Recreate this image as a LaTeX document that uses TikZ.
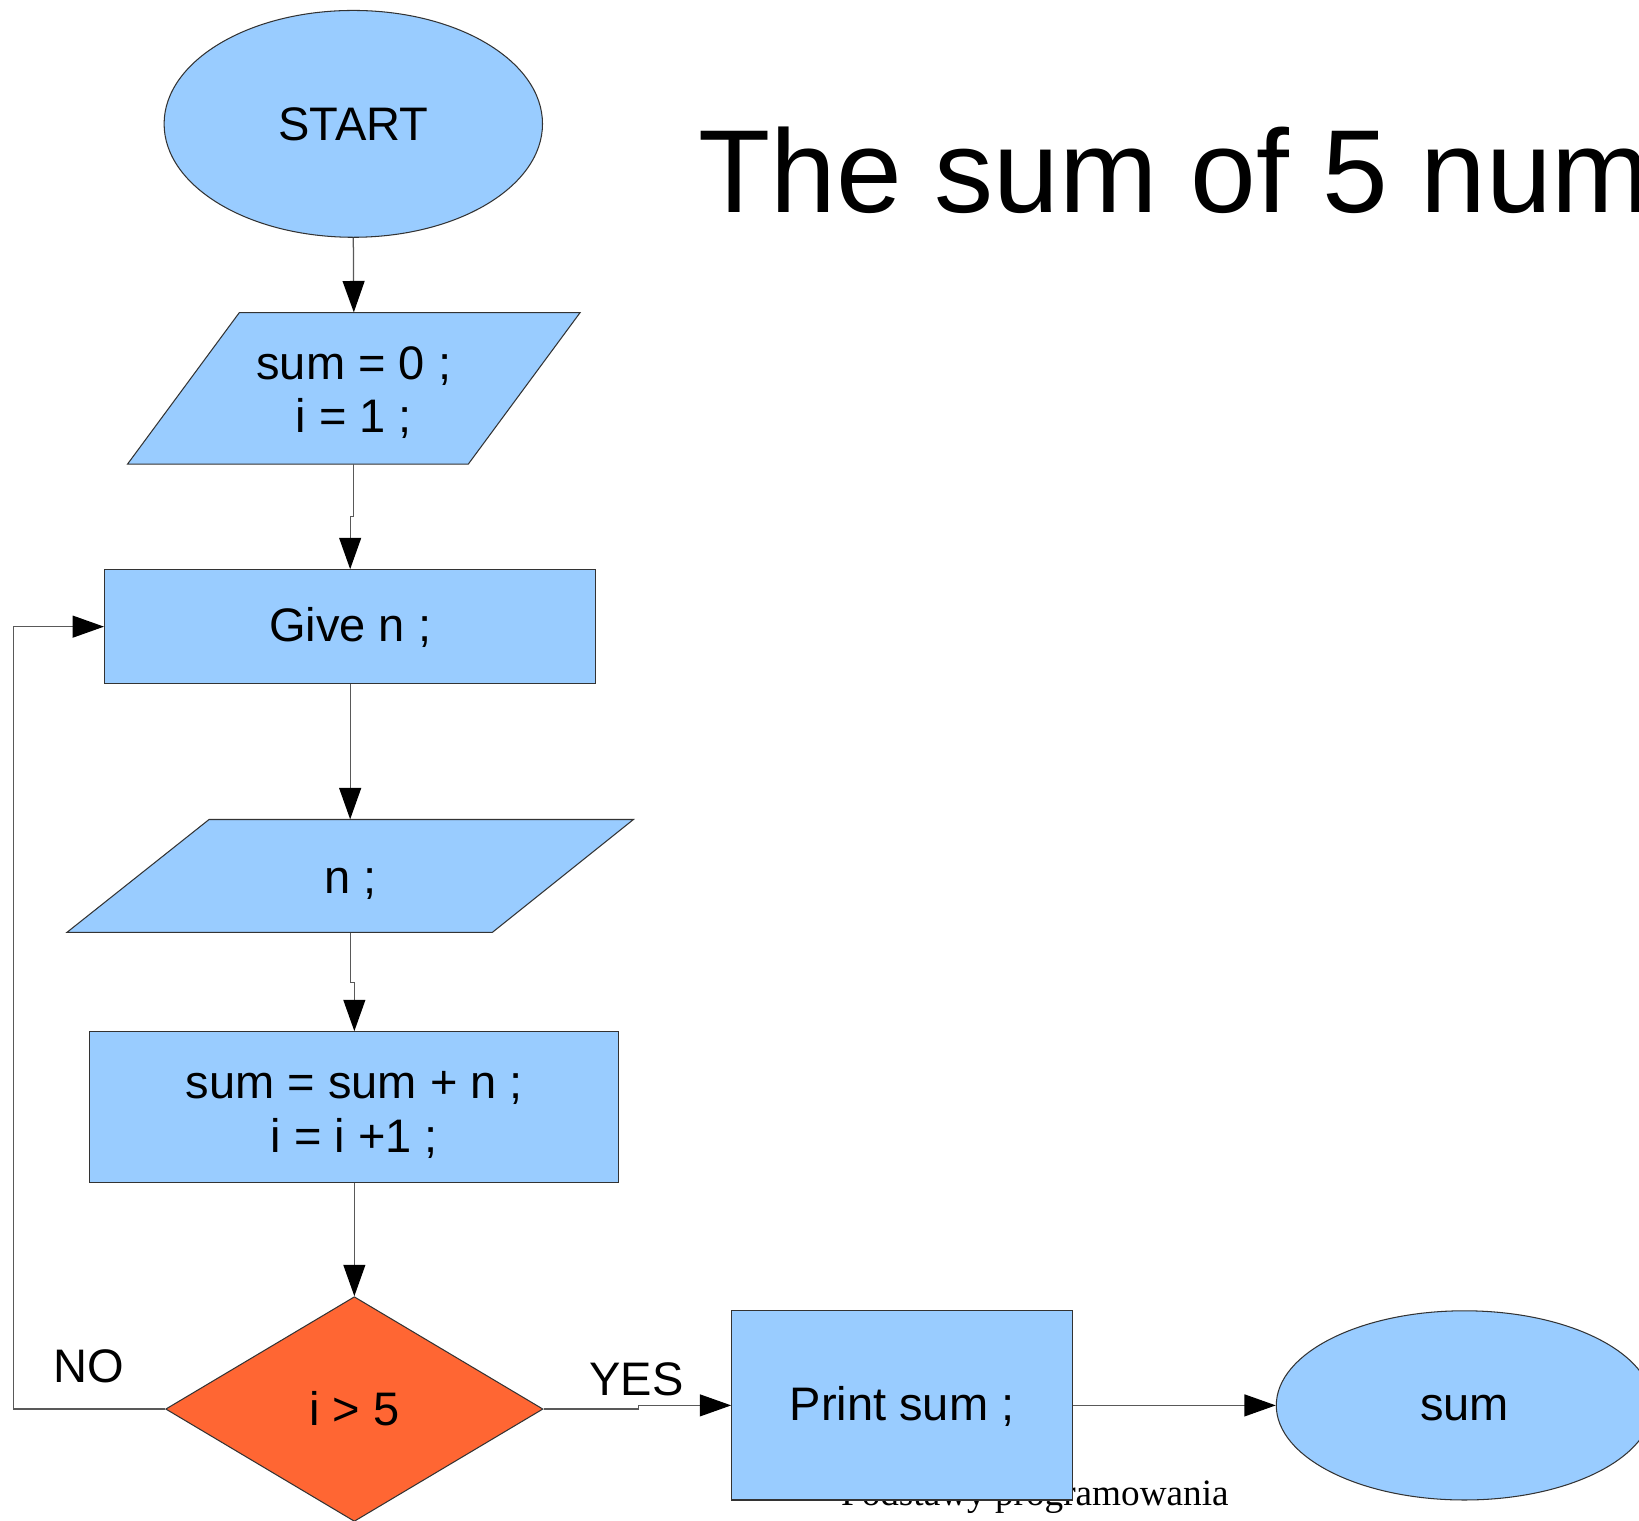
\documentclass[tikz,border=0pt]{standalone}
\usepackage{fontspec}
\setmainfont{Liberation Sans}
\newfontfamily\footfont{Liberation Serif}
\usetikzlibrary{arrows.meta,shapes.geometric}
\definecolor{boxblue}{HTML}{99CCFF}
\definecolor{decorange}{HTML}{FF6633}
\begin{document}
\begin{tikzpicture}[x=1pt,y=-1pt,
  txt/.style={font=\fontsize{45}{51}\selectfont},
  outline/.style={draw=black!80, line width=1pt},
  blk/.style={outline, fill=boxblue, inner sep=0pt, txt, align=center},
  conn/.style={draw=black!65, line width=1.2pt, -{Triangle[length=30pt,width=21pt,color=black]}}]
\useasboundingbox (0,0) rectangle (1568,1455);
\clip (0,0) rectangle (1568,1455);

% title and footer
\node[font=\fontsize{113}{120}\selectfont, anchor=base west, inner sep=0pt] (title) at (668,203) {The sum of 5 num};
\node[font=\footfont\fontsize{35.6}{40}\selectfont, anchor=base, inner sep=0pt] (footer) at (990,1440) {Podstawy programowania};

% shapes
\node[blk, ellipse, minimum width=362pt, minimum height=217pt] (start) at (338,118.5) {START};

\filldraw[outline, fill=boxblue] (229,299) -- (555,299) -- (448,444) -- (122,444) -- cycle;
\node[txt, align=center, inner sep=0pt, minimum width=433pt, minimum height=145pt] (p1) at (338.5,371.5) {\rule{0pt}{40pt}sum = 0 ;\\i = 1 ;};

\node[blk, rectangle, minimum width=470pt, minimum height=109pt, text height=36pt, text depth=7pt] (give) at (335,599.5) {Give n ;};

\filldraw[outline, fill=boxblue] (200,784) -- (606,784) -- (471,892) -- (64,892) -- cycle;
\node[txt, inner sep=0pt, minimum width=542pt, minimum height=108pt, text height=40pt, text depth=7pt] (p2) at (335,838) {n ;};

\node[blk, rectangle, minimum width=506pt, minimum height=144pt] (calc) at (339,1059) {\rule{0pt}{41pt}sum = sum + n ;\\i = i +1 ;};

\node[blk, diamond, fill=decorange, minimum width=361pt, minimum height=215pt] (dec) at (339,1348) {i > 5};

\node[blk, rectangle, minimum width=326pt, minimum height=181pt, text height=36pt, text depth=7pt] (print) at (863,1344.5) {Print sum ;};

\node[blk, ellipse, minimum width=360pt, minimum height=181pt, text height=28pt, text depth=0pt] (sum) at (1401,1344.5) {sum};

% labels
\node[txt, inner sep=0pt] (nolabel) at (85,1307) {NO};
\node[txt, inner sep=0pt] (yeslabel) at (609,1320) {YES};

% connectors
\draw[conn] (start.south) -- (p1.north);
\draw[conn] (p1.south) -- ++(0,50) -| (give.north);
\draw[conn] (give.south) -- (p2.north);
\draw[conn] (p2.south) -- ++(0,48) -| (calc.north);
\draw[conn] (calc.south) -- (dec.north);
\draw[conn] (dec.west) -- ++(-145,0) |- (give.west);
\draw[conn] (dec.east) -- ++(91,0) |- (print.west);
\draw[conn] (print.east) -- (sum.west);
\end{tikzpicture}
\end{document}
